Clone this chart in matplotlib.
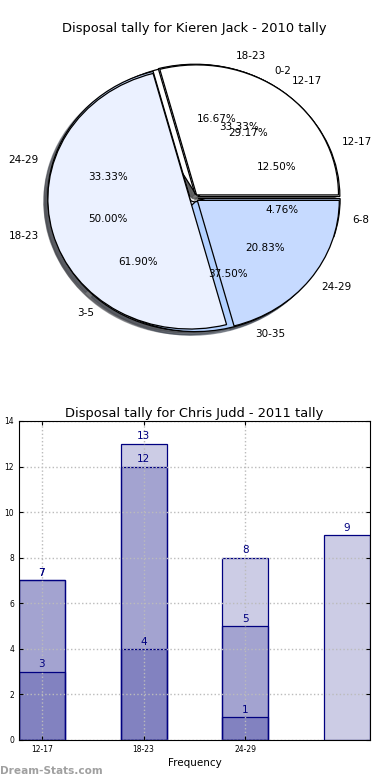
import matplotlib
matplotlib.use("Agg")
import matplotlib.pyplot as plt

# ---- data ----
pie_y_labels = ["12-17", "18-23", "24-29", "30-35"]
pie_y_values = [3, 4, 8, 9]
pie_x_labels = ["12-17", "18-23", "24-29"]
pie_x_values = [7, 12, 5]
pie_c_labels = ["0-2", "3-5", "6-8"]
pie_c_values = [7, 13, 1]

bar_series_a = [3, 4, 8, 9]
bar_series_b = [7, 12, 5]
bar_series_c = [7, 13, 1]
bar_tick_labels = ["12-17", "18-23", "24-29"]

pie_colors = ["#ffffff", "#ebf1ff", "#c6daff", "#b3d1ff"]

fig = plt.figure(figsize=(3.9, 7.8), dpi=100)

# ---- pie chart ----
ax1 = fig.add_axes([0.0423, 0.5378, 0.910, 0.4167])
for vals, labs in [(pie_c_values, pie_c_labels),
                   (pie_y_values, pie_y_labels),
                   (pie_x_values, pie_x_labels)]:
    ax1.pie(vals, labels=labs, autopct="%.2f%%", startangle=0,
            explode=[0.03] * len(vals), shadow=True,
            colors=pie_colors[:len(vals)],
            wedgeprops=dict(edgecolor="black", linewidth=0.9),
            textprops=dict(fontsize=7.5))
ax1.set_aspect("auto")
ax1.set_xlim(-1.25, 1.25)
ax1.set_ylim(-1.25, 1.25)
ax1.set_title("Disposal tally for Kieren Jack - 2010 tally", fontsize=9.4, pad=1)

# ---- bar chart ----
ax2 = fig.add_axes([0.0487, 0.0513, 0.900, 0.409])
face = (0, 0, 0.5, 0.2)
for series in [bar_series_a, bar_series_b, bar_series_c]:
    xs = list(range(len(series)))
    bars = ax2.bar(xs, series, width=0.45, facecolor=face,
                   edgecolor="navy", linewidth=0.9)
    for b, v in zip(bars, series):
        ax2.text(b.get_x() + b.get_width() / 2, v + 0.1, str(v),
                 ha="center", va="bottom", color="navy", fontsize=7.5)
ax2.set_xlim(-0.225, 3.225)
ax2.set_ylim(0, 14)
ax2.set_yticks(range(0, 15, 2))
ax2.set_xticks(range(len(bar_tick_labels)))
ax2.set_xticklabels(bar_tick_labels)
ax2.tick_params(labelsize=5.5, direction="in", top=True, right=True, length=3)
ax2.grid(True, linestyle=":", color="#bbbbbb", linewidth=1)
ax2.set_xlabel("Frequency", fontsize=7.5, labelpad=3)
ax2.set_title("Disposal tally for Chris Judd - 2011 tally", fontsize=9.4, pad=3)

fig.text(0.0, 0.012, "Dream-Stats.com", fontsize=7.6, fontweight="bold",
         color="#a0a0a0", ha="left", va="center")

fig.savefig("out.png", dpi=100)
